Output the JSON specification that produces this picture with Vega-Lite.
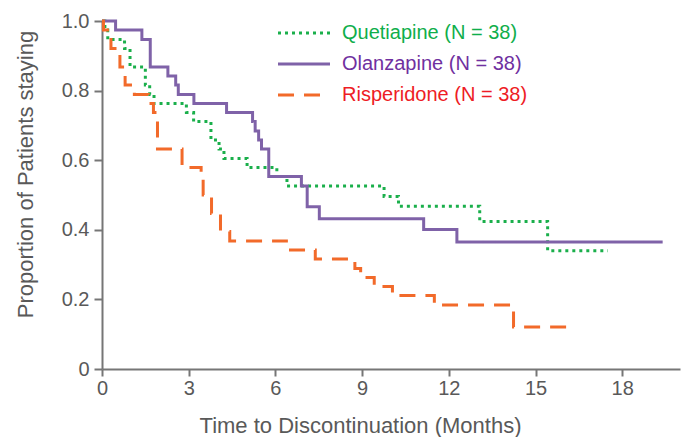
{
  "$schema": "https://vega.github.io/schema/vega-lite/v6.json",
  "width": 578,
  "height": 348,
  "autosize": {"type": "none"},
  "padding": {"left": 102, "top": 21, "right": 3, "bottom": 68},
  "background": "white",
  "config": {
    "view": {"stroke": null},
    "font": "Liberation Sans"
  },
  "data": {
    "values": [
      {"series": "Quetiapine (N = 38)", "t": 0, "p": 1.0},
      {"series": "Quetiapine (N = 38)", "t": 0.1, "p": 0.974},
      {"series": "Quetiapine (N = 38)", "t": 0.2, "p": 0.947},
      {"series": "Quetiapine (N = 38)", "t": 0.78, "p": 0.921},
      {"series": "Quetiapine (N = 38)", "t": 0.97, "p": 0.868},
      {"series": "Quetiapine (N = 38)", "t": 1.5, "p": 0.816},
      {"series": "Quetiapine (N = 38)", "t": 1.65, "p": 0.789},
      {"series": "Quetiapine (N = 38)", "t": 1.8, "p": 0.763},
      {"series": "Quetiapine (N = 38)", "t": 2.92, "p": 0.737},
      {"series": "Quetiapine (N = 38)", "t": 3.17, "p": 0.711},
      {"series": "Quetiapine (N = 38)", "t": 3.77, "p": 0.658},
      {"series": "Quetiapine (N = 38)", "t": 4.05, "p": 0.632},
      {"series": "Quetiapine (N = 38)", "t": 4.22, "p": 0.605},
      {"series": "Quetiapine (N = 38)", "t": 5.02, "p": 0.579},
      {"series": "Quetiapine (N = 38)", "t": 6.05, "p": 0.553},
      {"series": "Quetiapine (N = 38)", "t": 6.4, "p": 0.526},
      {"series": "Quetiapine (N = 38)", "t": 9.76, "p": 0.496},
      {"series": "Quetiapine (N = 38)", "t": 10.26, "p": 0.468},
      {"series": "Quetiapine (N = 38)", "t": 13.07, "p": 0.424},
      {"series": "Quetiapine (N = 38)", "t": 15.42, "p": 0.34},
      {"series": "Quetiapine (N = 38)", "t": 17.5, "p": 0.34},
      {"series": "Olanzapine (N = 38)", "t": 0, "p": 1.0},
      {"series": "Olanzapine (N = 38)", "t": 0.47, "p": 0.974},
      {"series": "Olanzapine (N = 38)", "t": 1.38, "p": 0.947},
      {"series": "Olanzapine (N = 38)", "t": 1.67, "p": 0.868},
      {"series": "Olanzapine (N = 38)", "t": 2.28, "p": 0.842},
      {"series": "Olanzapine (N = 38)", "t": 2.55, "p": 0.816},
      {"series": "Olanzapine (N = 38)", "t": 2.64, "p": 0.789},
      {"series": "Olanzapine (N = 38)", "t": 3.18, "p": 0.763},
      {"series": "Olanzapine (N = 38)", "t": 4.31, "p": 0.737},
      {"series": "Olanzapine (N = 38)", "t": 5.21, "p": 0.711},
      {"series": "Olanzapine (N = 38)", "t": 5.3, "p": 0.684},
      {"series": "Olanzapine (N = 38)", "t": 5.42, "p": 0.658},
      {"series": "Olanzapine (N = 38)", "t": 5.52, "p": 0.632},
      {"series": "Olanzapine (N = 38)", "t": 5.77, "p": 0.553},
      {"series": "Olanzapine (N = 38)", "t": 6.9, "p": 0.526},
      {"series": "Olanzapine (N = 38)", "t": 7.1, "p": 0.466},
      {"series": "Olanzapine (N = 38)", "t": 7.52, "p": 0.432},
      {"series": "Olanzapine (N = 38)", "t": 11.13, "p": 0.401},
      {"series": "Olanzapine (N = 38)", "t": 12.28, "p": 0.365},
      {"series": "Olanzapine (N = 38)", "t": 19.4, "p": 0.365},
      {"series": "Risperidone (N = 38)", "t": 0, "p": 1.0},
      {"series": "Risperidone (N = 38)", "t": 0.05, "p": 0.974},
      {"series": "Risperidone (N = 38)", "t": 0.31, "p": 0.921},
      {"series": "Risperidone (N = 38)", "t": 0.62, "p": 0.868},
      {"series": "Risperidone (N = 38)", "t": 0.8, "p": 0.816},
      {"series": "Risperidone (N = 38)", "t": 1.12, "p": 0.789},
      {"series": "Risperidone (N = 38)", "t": 1.6, "p": 0.763},
      {"series": "Risperidone (N = 38)", "t": 1.78, "p": 0.737},
      {"series": "Risperidone (N = 38)", "t": 1.92, "p": 0.632},
      {"series": "Risperidone (N = 38)", "t": 2.77, "p": 0.579},
      {"series": "Risperidone (N = 38)", "t": 3.43, "p": 0.553},
      {"series": "Risperidone (N = 38)", "t": 3.5, "p": 0.5},
      {"series": "Risperidone (N = 38)", "t": 3.79, "p": 0.447},
      {"series": "Risperidone (N = 38)", "t": 4.1, "p": 0.395},
      {"series": "Risperidone (N = 38)", "t": 4.42, "p": 0.368},
      {"series": "Risperidone (N = 38)", "t": 6.38, "p": 0.342},
      {"series": "Risperidone (N = 38)", "t": 7.38, "p": 0.316},
      {"series": "Risperidone (N = 38)", "t": 8.75, "p": 0.289},
      {"series": "Risperidone (N = 38)", "t": 8.95, "p": 0.263},
      {"series": "Risperidone (N = 38)", "t": 9.42, "p": 0.237},
      {"series": "Risperidone (N = 38)", "t": 10.05, "p": 0.211},
      {"series": "Risperidone (N = 38)", "t": 11.5, "p": 0.184},
      {"series": "Risperidone (N = 38)", "t": 14.24, "p": 0.121},
      {"series": "Risperidone (N = 38)", "t": 16.2, "p": 0.121}
    ]
  },
  "mark": {"type": "line", "interpolate": "step-after", "strokeWidth": 3, "clip": false},
  "encoding": {
    "x": {
      "field": "t",
      "type": "quantitative",
      "scale": {"domain": [0, 20], "nice": false, "zero": false},
      "axis": {
        "values": [0, 3, 6, 9, 12, 15, 18],
        "title": "Time to Discontinuation (Months)",
        "grid": false,
        "labelFlush": false,
        "domainColor": "#767676",
        "domainWidth": 2,
        "tickColor": "#767676",
        "tickWidth": 2,
        "tickSize": 7,
        "labelFontSize": 20,
        "labelColor": "#595959",
        "labelPadding": 2,
        "labelFont": "Liberation Sans",
        "titleFont": "Liberation Sans",
        "titleFontSize": 22,
        "titleFontWeight": "normal",
        "titleColor": "#595959",
        "titleX": 258,
        "titleY": 56,
        "titleAlign": "center",
        "titleBaseline": "middle"
      }
    },
    "y": {
      "field": "p",
      "type": "quantitative",
      "scale": {"domain": [0, 1], "nice": false},
      "axis": {
        "values": [0, 0.2, 0.4, 0.6, 0.8, 1.0],
        "labelExpr": "datum.value == 0 ? '0' : format(datum.value, '.1f')",
        "title": "Proportion of Patients staying",
        "grid": false,
        "labelFlush": false,
        "domainColor": "#767676",
        "domainWidth": 2,
        "tickColor": "#767676",
        "tickWidth": 2,
        "tickSize": 8,
        "labelFontSize": 20,
        "labelColor": "#595959",
        "labelPadding": 5,
        "labelFont": "Liberation Sans",
        "titleFont": "Liberation Sans",
        "titleFontSize": 22,
        "titleFontWeight": "normal",
        "titleColor": "#595959",
        "titleX": -77,
        "titleY": 153,
        "titleAngle": -90,
        "titleAlign": "center",
        "titleBaseline": "middle"
      }
    },
    "color": {
      "field": "series",
      "type": "nominal",
      "scale": {
        "domain": ["Quetiapine (N = 38)", "Olanzapine (N = 38)", "Risperidone (N = 38)"],
        "range": ["#1aaf4b", "#7f62a8", "#f26a2a"]
      },
      "legend": {
        "orient": "none",
        "legendX": 192,
        "legendY": 2,
        "title": null,
        "padding": 0,
        "symbolType": "M-5.2,0H5.2",
        "symbolSize": 100,
        "symbolStrokeWidth": 3,
        "symbolFillColor": "transparent",
        "labelFontSize": 20,
        "labelFont": "Liberation Sans",
        "labelLimit": 400,
        "labelOffset": 28,
        "rowPadding": 11,
        "labelColor": {"expr": "datum.value == 'Quetiapine (N = 38)' ? '#0fae4b' : datum.value == 'Olanzapine (N = 38)' ? '#7030a0' : '#ee1c25'"}
      }
    },
    "strokeDash": {
      "field": "series",
      "type": "nominal",
      "scale": {
        "domain": ["Quetiapine (N = 38)", "Olanzapine (N = 38)", "Risperidone (N = 38)"],
        "range": [[3, 4], [1, 0], [16, 10]]
      },
      "legend": {
        "orient": "none",
        "legendX": 192,
        "legendY": 2,
        "title": null,
        "padding": 0,
        "symbolType": "M-5.2,0H5.2",
        "symbolSize": 100,
        "symbolStrokeWidth": 3,
        "symbolFillColor": "transparent",
        "labelFontSize": 20,
        "labelFont": "Liberation Sans",
        "labelLimit": 400,
        "labelOffset": 28,
        "rowPadding": 11,
        "labelColor": {"expr": "datum.value == 'Quetiapine (N = 38)' ? '#0fae4b' : datum.value == 'Olanzapine (N = 38)' ? '#7030a0' : '#ee1c25'"}
      }
    }
  }
}
